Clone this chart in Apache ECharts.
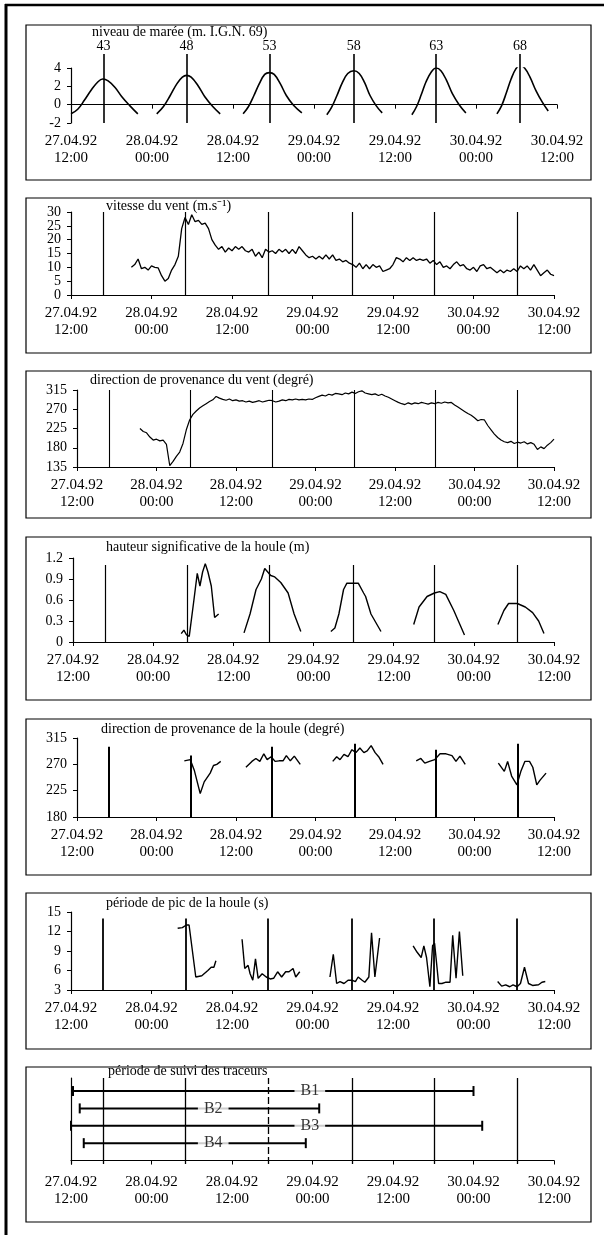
<!DOCTYPE html>
<html lang="fr">
<head>
<meta charset="UTF-8">
<title>Conditions hydrodynamiques 27-30.04.92</title>
<script src="https://cdn.jsdelivr.net/npm/echarts@6/dist/echarts.min.js"></script>
<style>
  body { margin: 0; padding: 0; background: #fff; }
  #chart { width: 604px; height: 1235px; }
</style>
</head>
<body>
<div id="chart"></div>
<script>
// temps en heures depuis le 27.04.92 12:00
var tickLabels = ['27.04.92\n12:00', '28.04.92\n00:00', '28.04.92\n12:00', '29.04.92\n00:00',
                  '29.04.92\n12:00', '30.04.92\n00:00', '30.04.92\n12:00'];

// pleines mers et coefficients
var tidePeaks = [4.8, 17.1, 29.4, 41.9, 54.1, 66.5];
var tideCoef = [43, 48, 53, 58, 63, 68];

// niveau de marée (m IGN 69)
var tide1 = [[0, -1.0], [1, -0.5], [2, 0.5], [3, 1.6], [4, 2.5], [4.7, 2.8], [5.5, 2.6], [6.5, 1.9], [7.5, 0.9], [8.7, -0.1], [9.9, -1.0]];
var tide2 = [[12.7, -1.0], [13.7, -0.2], [14.7, 1.0], [15.7, 2.3], [16.5, 3.0], [17.1, 3.2], [17.8, 3.0], [18.8, 2.1], [19.8, 0.9], [21.0, -0.2], [22.1, -1.0]];
var tide3 = [[25.5, -1.0], [26.3, -0.2], [27.1, 1.0], [27.9, 2.3], [28.7, 3.3], [29.4, 3.5], [30.1, 3.3], [31.0, 2.3], [31.9, 1.0], [33.0, -0.1], [34.2, -0.9]];
var tide4 = [[37.9, -1.1], [38.6, -0.3], [39.4, 1.0], [40.2, 2.4], [41.0, 3.4], [41.9, 3.7], [42.7, 3.4], [43.5, 2.4], [44.3, 1.0], [45.2, -0.1], [46.1, -0.9]];
var tide5 = [[50.5, -1.1], [51.2, -0.2], [51.9, 1.1], [52.6, 2.5], [53.4, 3.6], [54.1, 4.0], [54.8, 3.7], [55.6, 2.7], [56.5, 1.2], [57.5, 0.0], [58.5, -0.9]];
var tide6 = [[63.1, -1.0], [63.8, -0.1], [64.5, 1.3], [65.2, 2.8], [65.9, 3.9], [66.5, 4.3], [67.2, 4.0], [68.0, 3.0], [68.9, 1.5], [69.8, 0.3], [70.7, -0.7]];

// vitesse du vent (m/s), une valeur toutes les 30 min à partir de 9h
var windStart = 9.0;
var windSpeed = [
  10, 11, 13, 9.5, 10, 9, 10.5, 10, 9.8, 7,
  5, 6, 9, 11, 14, 24, 28, 25.5, 29, 26.5,
  27, 25.5, 26, 24, 20, 18, 16.5, 17.5, 15.5, 17,
  16, 17.5, 16.5, 17.5, 16, 15.5, 16.5, 14, 15.5, 13.5,
  16.5, 15.5, 16, 15, 16.5, 15.5, 16.5, 15, 16.5, 15,
  17.5, 16, 14.5, 13.5, 14, 13, 14, 13, 14.5, 13,
  14.5, 12.5, 13, 12, 12.5, 11.5, 11, 10, 11.5, 9.5,
  11, 9.5, 11, 10, 10.5, 8.5, 9, 9.5, 11, 13.5,
  13, 12, 13.5, 12.5, 13.5, 12.5, 13, 12.5, 13, 11.5,
  12.5, 11, 12, 10, 10.5, 9.5, 11, 12, 10.5, 11,
  9.5, 9, 10, 8.5, 10.5, 11, 9.5, 10, 9, 8,
  9, 8, 9, 8.5, 9.5, 8.5, 10.5, 9.5, 10.5, 9,
  11, 9, 7, 8, 9, 7.5, 7
];

// direction de provenance du vent (degrés), toutes les 30 min à partir de 9h30
var windDirStart = 9.5;
var windDir = [
  225, 218, 215, 205, 198, 200, 196, 198, 188, 138,
  148, 160, 170, 190, 222, 245, 258, 266, 273, 278,
  283, 288, 292, 300, 296, 293, 291, 294, 290, 292,
  289, 290, 287, 289, 286, 288, 290, 287, 289, 291,
  290, 287, 289, 292, 290, 293, 292, 294, 292, 293,
  292, 294, 293, 297, 300, 303, 301, 305, 303, 307,
  306, 304, 308, 306, 310, 307, 311, 313, 308, 306,
  304, 306, 302, 305, 301, 298, 294, 290, 286, 283,
  281, 285, 282, 285, 283, 286, 284, 282, 285, 283,
  286, 284, 287, 285, 286, 280, 275, 270, 265, 260,
  256, 250, 243, 246, 245, 232, 222, 212, 204, 198,
  194, 192, 195, 190, 193, 191, 194, 189, 192, 188,
  176, 182, 178, 186, 192, 200
];

// hauteur significative de la houle (m)
var hs1 = [[16.2, 0.12], [16.6, 0.17], [17.0, 0.1], [17.4, 0.08], [18.1, 0.6], [18.6, 0.98], [19.0, 0.8], [19.4, 1.0], [19.8, 1.12], [20.2, 1.0], [20.7, 0.8], [21.2, 0.35], [21.8, 0.4]];
var hs2 = [[25.6, 0.13], [26.5, 0.4], [27.4, 0.75], [28.2, 0.9], [28.7, 1.05], [29.6, 0.95], [30.2, 0.93], [31.1, 0.85], [32.2, 0.7], [33.1, 0.4], [34.1, 0.15]];
var hs3 = [[38.6, 0.15], [39.2, 0.2], [39.8, 0.4], [40.5, 0.75], [41.0, 0.84], [42.7, 0.84], [43.5, 0.7], [43.8, 0.65], [44.6, 0.4], [46.1, 0.15]];
var hs4 = [[51.0, 0.25], [51.8, 0.5], [53.0, 0.65], [54.1, 0.7], [54.9, 0.72], [55.8, 0.68], [57.0, 0.45], [58.6, 0.1]];
var hs5 = [[63.6, 0.25], [64.5, 0.45], [65.2, 0.55], [66.5, 0.55], [67.7, 0.5], [68.8, 0.42], [69.7, 0.3], [70.5, 0.12]];

// direction de provenance de la houle (degrés)
var dir1 = [[16.2, 276], [17.1, 278], [17.7, 260], [18.6, 220], [19.2, 240], [20.1, 255], [20.6, 268], [21.1, 270], [21.7, 275]];
var dir2 = [[25.5, 265], [26.4, 275], [27.0, 280], [27.6, 275], [28.2, 288], [28.7, 278], [29.3, 283], [29.9, 275], [30.5, 276], [31.1, 276], [31.6, 285], [32.2, 276], [32.8, 284], [33.7, 270]];
var dir3 = [[38.6, 275], [39.2, 283], [39.7, 278], [40.3, 287], [40.9, 283], [41.5, 295], [42.1, 290], [42.7, 298], [43.3, 290], [43.8, 293], [44.4, 302], [45.0, 290], [45.6, 282], [46.2, 270]];
var dir4 = [[51.2, 276], [51.9, 280], [52.5, 272], [53.2, 275], [54.0, 278], [54.8, 288], [55.7, 288], [56.6, 285], [57.2, 275], [57.8, 284], [58.6, 270]];
var dir5 = [[63.6, 272], [64.5, 258], [65.0, 275], [65.6, 250], [66.4, 235], [67.0, 258], [67.6, 275], [68.3, 275], [68.8, 265], [69.4, 235], [69.9, 243], [70.8, 255]];
var dirLineTop = [300, 285, 300, 305, 295, 305];

// période de pic de la houle (s)
var tp1 = [[15.9, 12.5], [16.6, 12.6], [17.2, 13], [17.6, 13], [18.6, 5], [19.5, 5.2], [20.4, 6], [20.9, 6.5], [21.3, 6.5], [21.6, 7.5]];
var tp2 = [[25.5, 10.8], [25.9, 6.3], [26.4, 6.8], [26.7, 5.5], [27.1, 4.5], [27.5, 7.8], [27.9, 4.8], [28.5, 5.5], [29.1, 5], [29.7, 4.7], [30.2, 4.8], [30.8, 5.8], [31.4, 5], [32.0, 5.8], [32.5, 5.8], [33.1, 6.3], [33.5, 5], [34.1, 5.8]];
var tp3 = [[38.6, 5], [39.1, 8.5], [39.6, 4], [40.1, 4.3], [40.7, 4], [41.3, 4.5], [41.9, 4.5], [42.4, 4.3], [42.8, 5], [43.4, 4.5], [43.8, 4.2], [44.4, 5], [44.8, 11.8], [45.3, 5], [46.0, 11]];
var tp4 = [[51.0, 9.8], [51.6, 8.8], [52.2, 8], [52.6, 9.8], [53.0, 8], [53.5, 3.5], [53.9, 9.8], [54.2, 10.2], [54.8, 4], [55.3, 4], [55.9, 4.2], [56.5, 4.2], [56.9, 11.4], [57.4, 4.8], [57.9, 12], [58.4, 5.2]];
var tp5 = [[63.6, 4.3], [64.2, 3.6], [64.8, 3.8], [65.4, 3.5], [65.9, 3.8], [66.5, 3.5], [67.0, 4], [67.6, 6.5], [68.2, 4], [68.8, 3.7], [69.7, 3.8], [70.2, 4.2], [70.7, 4.3]];

// période de suivi des traceurs (heures)
var tracerNames = ['B1', 'B2', 'B3', 'B4'];
var tracerRow = [4, 3, 2, 1];
var tracerStart = [0.3, 1.3, 0, 1.9];
var tracerEnd = [60.0, 37.0, 61.3, 35.0];
var tracerLabelAt = [35.6, 21.2, 35.6, 21.2];

var FONT = 'Liberation Serif';
var chart = echarts.init(document.getElementById('chart'));

var panels = [
  {top: 68, height: 55, left: 71, right: 47, box: [25, 180], title: 'niveau de marée (m. I.G.N. 69)', tx: 92, ty: 25, min: -2, max: 4, interval: 2},
  {top: 212, height: 83, left: 71, right: 50, box: [198, 353], title: 'vitesse du vent (m.s⁻¹)', tx: 106, ty: 199, min: 0, max: 30, interval: 5},
  {top: 390, height: 77, left: 77, right: 50, box: [371, 518], title: 'direction de provenance du vent (degré)', tx: 90, ty: 373, min: 135, max: 315, interval: 45},
  {top: 558, height: 84, left: 73, right: 50, box: [537, 700], title: 'hauteur significative de la houle (m)', tx: 106, ty: 540, min: 0, max: 1.2, interval: 0.3},
  {top: 738, height: 79, left: 77, right: 50, box: [719, 875], title: 'direction de provenance de la houle (degré)', tx: 101, ty: 722, min: 180, max: 315, interval: 45},
  {top: 912, height: 78, left: 71, right: 50, box: [893, 1049], title: 'période de pic de la houle (s)', tx: 106, ty: 896, min: 3, max: 15, interval: 3},
  {top: 1078, height: 86, left: 71, right: 50, box: [1067, 1222], title: 'période de suivi des traceurs', tx: 108, ty: 1064, min: -0.2, max: 4.75}
];

var grids = [], xAxes = [], yAxes = [], titles = [], graphics = [];

panels.forEach(function (p, i) {
  grids.push({left: p.left, right: p.right, top: p.top, height: p.height});
  xAxes.push({
    type: 'value', gridIndex: i, min: 0, max: 72, interval: 12,
    axisLine: {lineStyle: {color: '#000', width: 1.2}},
    axisTick: {show: true, length: 4, lineStyle: {color: '#000'}},
    axisLabel: {
      color: '#000', fontFamily: FONT, fontSize: 15, lineHeight: 17, margin: 10,
      formatter: function (v) { return tickLabels[Math.round(v / 12)]; }
    },
    splitLine: {show: false}
  });
  var ya = {
    type: 'value', gridIndex: i, min: p.min, max: p.max,
    axisLine: {show: true, lineStyle: {color: '#000', width: 1.2}},
    axisTick: {show: i < 6, length: 4, lineStyle: {color: '#000'}},
    axisLabel: {show: i < 6, color: '#000', fontFamily: FONT, fontSize: 14, margin: 10},
    splitLine: {show: false}
  };
  if (p.interval) ya.interval = p.interval;
  yAxes.push(ya);
  titles.push({text: p.title, left: p.tx, top: p.ty, padding: 0,
    textStyle: {fontFamily: FONT, fontSize: 14, fontWeight: 'normal', color: '#000'}});
  graphics.push({type: 'rect', shape: {x: 26, y: p.box[0], width: 565, height: p.box[1] - p.box[0]},
    style: {fill: 'none', stroke: '#000', lineWidth: 1.2}});
});

// grille superposée pour les traits de pleine mer du niveau de marée
grids.push({left: 71, right: 47, top: 54, height: 69});
xAxes.push({type: 'value', gridIndex: 7, min: 0, max: 72, show: false});
yAxes.push({type: 'value', gridIndex: 7, min: -2, max: 5.5, show: false});

graphics.push({type: 'line', shape: {x1: 6, y1: 4, x2: 6, y2: 1235}, style: {stroke: '#000', lineWidth: 3}});
graphics.push({type: 'line', shape: {x1: 5, y1: 5, x2: 604, y2: 5}, style: {stroke: '#000', lineWidth: 2.5}});

function vLines(yMin, tops) {
  return tidePeaks.map(function (h, i) {
    var top = Array.isArray(tops) ? tops[i] : tops;
    return [{coord: [h, yMin]}, {coord: [h, top]}];
  });
}

function markLines(yMin, tops, width, extra) {
  var m = {
    silent: true, symbol: ['none', 'none'], animation: false,
    lineStyle: {color: '#000', width: width, type: 'solid'},
    label: {show: false},
    emphasis: {disabled: true},
    data: vLines(yMin, tops)
  };
  return Object.assign(m, extra || {});
}

function lineSeries(data, idx, ml, width) {
  var s = {
    type: 'line', xAxisIndex: idx, yAxisIndex: idx, data: data,
    symbol: 'none', silent: true, animation: false,
    lineStyle: {color: '#000', width: width || 1.2}
  };
  if (ml) s.markLine = ml;
  return s;
}

function timed(start, values) {
  return values.map(function (v, i) { return [start + i * 0.5, v]; });
}

var series = [];

// 1. marée
[tide1, tide2, tide3, tide4, tide5, tide6].forEach(function (d) {
  var s = lineSeries(d, 0, null, 1.6);
  s.smooth = 0.4;
  series.push(s);
});
series.push({
  type: 'line', xAxisIndex: 7, yAxisIndex: 7, symbol: 'none', silent: true, animation: false,
  data: tidePeaks.map(function (h) { return [h, -2]; }),
  lineStyle: {opacity: 0},
  markLine: markLines(-2, 5.5, 1.6, {
    label: {show: true, position: 'end', distance: 1, color: '#000', fontFamily: FONT, fontSize: 14,
      formatter: function (p) { return String(tideCoef[p.dataIndex]); }}
  })
});

// 2. vitesse du vent
series.push(lineSeries(timed(windStart, windSpeed), 1, markLines(0, 30, 1.2), 1.3));

// 3. direction du vent
series.push(lineSeries(timed(windDirStart, windDir), 2, markLines(135, 315, 1.1), 1.2));

// 4. hauteur de houle
[hs1, hs2, hs3, hs4, hs5].forEach(function (d, i) {
  series.push(lineSeries(d, 3, i === 0 ? markLines(0, 1.1, 1.2) : null, 1.4));
});

// 5. direction de houle
[dir1, dir2, dir3, dir4, dir5].forEach(function (d, i) {
  series.push(lineSeries(d, 4, i === 0 ? markLines(180, dirLineTop, 2) : null, 1.4));
});

// 6. période de pic
[tp1, tp2, tp3, tp4, tp5].forEach(function (d, i) {
  series.push(lineSeries(d, 5, i === 0 ? markLines(3, 14, 1.8) : null, 1.4));
});

// 7. traceurs
var tracerLines = vLines(-0.2, 4.75);
tracerLines[2][0].lineStyle = {type: [7, 3], color: '#000', width: 1.3};
tracerNames.forEach(function (n, i) {
  var s = lineSeries([[tracerStart[i], tracerRow[i]], [tracerEnd[i], tracerRow[i]]], 6,
    i === 0 ? markLines(-0.2, 4.75, 1.3, {data: tracerLines}) : null, 2);
  s.symbol = 'rect';
  s.symbolSize = [2, 10];
  s.itemStyle = {color: '#000'};
  series.push(s);
});
series.push({
  type: 'scatter', xAxisIndex: 6, yAxisIndex: 6, symbolSize: 1, silent: true, animation: false,
  itemStyle: {color: 'rgba(0,0,0,0)'},
  data: tracerNames.map(function (n, i) { return {name: n, value: [tracerLabelAt[i], tracerRow[i]]}; }),
  label: {show: true, position: 'inside', formatter: '{b}', color: '#000', fontFamily: FONT, fontSize: 16,
    backgroundColor: '#fff', padding: [0, 6]},
  z: 5
});

chart.setOption({
  animation: false,
  backgroundColor: '#fff',
  textStyle: {fontFamily: FONT},
  title: titles,
  grid: grids,
  xAxis: xAxes,
  yAxis: yAxes,
  graphic: graphics,
  series: series
});
</script>
</body>
</html>
